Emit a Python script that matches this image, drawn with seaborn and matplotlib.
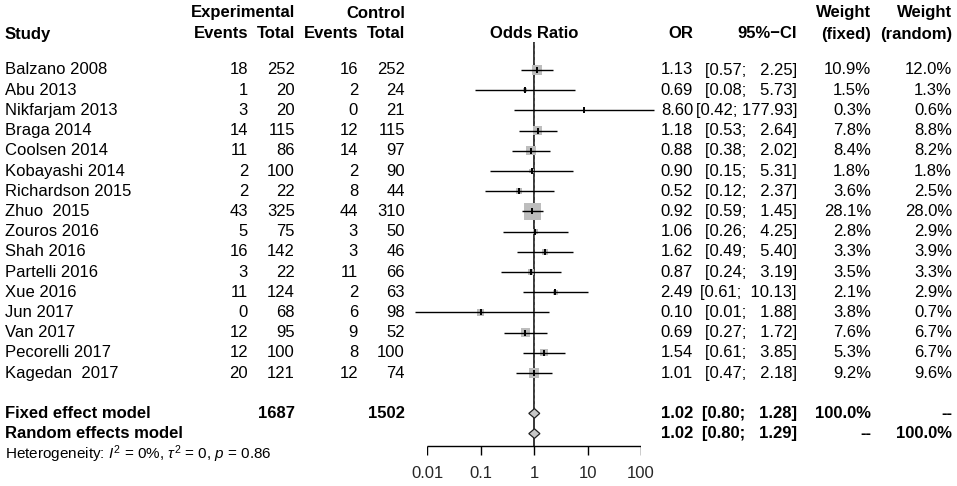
import numpy as np
import pandas as pd
import matplotlib
matplotlib.use("Agg")
import matplotlib.pyplot as plt
import seaborn as sns

# ---------------- data ----------------
studies = ["Balzano 2008", "Abu 2013", "Nikfarjam 2013", "Braga 2014", "Coolsen 2014",
           "Kobayashi 2014", "Richardson 2015", "Zhuo  2015", "Zouros 2016", "Shah 2016",
           "Partelli 2016", "Xue 2016", "Jun 2017", "Van 2017", "Pecorelli 2017", "Kagedan  2017"]
exp_events = [18, 1, 3, 14, 11, 2, 2, 43, 5, 16, 3, 11, 0, 12, 12, 20]
exp_total = [252, 20, 20, 115, 86, 100, 22, 325, 75, 142, 22, 124, 68, 95, 100, 121]
ctrl_events = [16, 2, 0, 12, 14, 2, 8, 44, 3, 3, 11, 2, 6, 9, 8, 12]
ctrl_total = [252, 24, 21, 115, 97, 90, 44, 310, 50, 46, 66, 63, 98, 52, 100, 74]
odds_ratio = [1.13, 0.69, 8.60, 1.18, 0.88, 0.90, 0.52, 0.92, 1.06, 1.62, 0.87, 2.49, 0.10, 0.69, 1.54, 1.01]
ci_low = [0.57, 0.08, 0.42, 0.53, 0.38, 0.15, 0.12, 0.59, 0.26, 0.49, 0.24, 0.61, 0.006, 0.27, 0.61, 0.47]
ci_high = [2.25, 5.73, 177.93, 2.64, 2.02, 5.31, 2.37, 1.45, 4.25, 5.40, 3.19, 10.13, 1.88, 1.72, 3.85, 2.18]
weight_fixed = [10.9, 1.5, 0.3, 7.8, 8.4, 1.8, 3.6, 28.1, 2.8, 3.3, 3.5, 2.1, 3.8, 7.6, 5.3, 9.2]
weight_random = [12.0, 1.3, 0.6, 8.8, 8.2, 1.8, 2.5, 28.0, 2.9, 3.9, 3.3, 2.9, 0.7, 6.7, 6.7, 9.6]

summary_labels = ["Fixed effect model", "Random effects model"]
summary_or = [1.02, 1.02]
summary_low = [0.80, 0.80]
summary_high = [1.28, 1.29]
summary_wfixed = ["100.0%", "--"]
summary_wrandom = ["--", "100.0%"]
total_exp = 1687
total_ctrl = 1502
heterogeneity = r"Heterogeneity: $I^2$ = 0%, $\tau^2$ = 0, $p$ = 0.86"
axis_ticks = [0.01, 0.1, 1, 10, 100]
axis_ticklabels = ["0.01", "0.1", "1", "10", "100"]

# ---------------- style ----------------
sns.set_theme(style="white")
plt.rcParams["font.family"] = ["Liberation Sans", "DejaVu Sans"]
plt.rcParams["mathtext.fontset"] = "custom"
plt.rcParams["mathtext.rm"] = "Liberation Sans"
plt.rcParams["mathtext.it"] = "Liberation Sans:italic"
plt.rcParams["mathtext.bf"] = "Liberation Sans:bold"

W, H = 957, 486
fig = plt.figure(figsize=(W / 100, H / 100), dpi=100)
fig.patch.set_facecolor("white")

axt = fig.add_axes([0, 0, 1, 1])
axt.set_xlim(0, W)
axt.set_ylim(H, 0)
axt.axis("off")

px_lo, px_hi = 427, 641  # pixel positions of 0.01 and 100
axf = fig.add_axes([px_lo / W, 0, (px_hi - px_lo) / W, 1])
axf.set_xscale("log")
axf.set_xlim(0.01, 100)
axf.set_ylim(H, 0)
axf.axis("off")

n = len(studies)
row0, rowh = 70, 20.2
ys = row0 + rowh * np.arange(n)
y_sum = [row0 + rowh * (n + 1), row0 + rowh * (n + 2)]
y_het = row0 + rowh * (n + 3)
y_hdr1, y_hdr2 = 13, 34
y_axis = 446

fs = 12
col = dict(study=5, ee=248, et=295, ce=358, ct=405, orr=693, ci=797, wf=871, wr=952)

def txt(x, y, s, ha="right", bold=False, size=fs):
    axt.text(x, y, s, ha=ha, va="center", fontsize=size,
             fontweight="bold" if bold else "normal", color="black")

# headers
txt(col["et"], y_hdr1, "Experimental", bold=True)
txt(col["ct"], y_hdr1, "Control", bold=True)
txt(col["study"], y_hdr2, "Study", ha="left", bold=True)
txt(col["ee"], y_hdr2, "Events", bold=True)
txt(col["et"], y_hdr2, "Total", bold=True)
txt(col["ce"], y_hdr2, "Events", bold=True)
txt(col["ct"], y_hdr2, "Total", bold=True)
txt(534, y_hdr2, "Odds Ratio", ha="center", bold=True)
txt(col["orr"], y_hdr2, "OR", bold=True)
txt(col["ci"], y_hdr2, "95%\u2212CI", bold=True)
txt(col["wf"], y_hdr1, "Weight", bold=True)
txt(col["wf"], y_hdr2, "(fixed)", bold=True)
txt(col["wr"], y_hdr1, "Weight", bold=True)
txt(col["wr"], y_hdr2, "(random)", bold=True)

# study rows
for i in range(n):
    y = ys[i]
    txt(col["study"], y, studies[i], ha="left")
    txt(col["ee"], y, f"{exp_events[i]}")
    txt(col["et"], y, f"{exp_total[i]}")
    txt(col["ce"], y, f"{ctrl_events[i]}")
    txt(col["ct"], y, f"{ctrl_total[i]}")
    txt(col["orr"], y, f"{odds_ratio[i]:.2f}")
    txt(col["ci"], y, f"[{ci_low[i]:.2f}; {ci_high[i]:6.2f}]")
    txt(col["wf"], y, f"{weight_fixed[i]:.1f}%")
    txt(col["wr"], y, f"{weight_random[i]:.1f}%")

# summary rows
for j in range(2):
    y = y_sum[j]
    txt(col["study"], y, summary_labels[j], ha="left", bold=True)
    txt(col["orr"], y, f"{summary_or[j]:.2f}", bold=True)
    txt(col["ci"], y, f"[{summary_low[j]:.2f}; {summary_high[j]:6.2f}]", bold=True)
    txt(col["wf"], y, summary_wfixed[j], bold=True)
    txt(col["wr"], y, summary_wrandom[j], bold=True)
txt(col["et"], y_sum[0], f"{total_exp}", bold=True)
txt(col["ct"], y_sum[0], f"{total_ctrl}", bold=True)
txt(col["study"], y_het, heterogeneity, ha="left", size=11)

# ---------------- forest ----------------
axf.vlines(1, 42, y_axis, color="black", lw=1.1, zorder=1)
axf.vlines(summary_or[0], 42, y_sum[0], color="#555555", lw=0.7, ls=(0, (3, 3)), zorder=1)

df = pd.DataFrame({"OR": odds_ratio, "y": ys, "w": weight_fixed})
smax = 150.0
wmin, wmax = min(weight_fixed), max(weight_fixed)
sns.scatterplot(data=df, x="OR", y="y", size="w", sizes=(smax * wmin / wmax, smax),
                size_norm=(wmin, wmax), marker="s", color="#bdbdbd", linewidth=0,
                legend=False, ax=axf, zorder=2)
axf.hlines(ys, ci_low, ci_high, color="black", lw=1.0, clip_on=False, zorder=3)
axf.scatter(odds_ratio, ys, marker="|", s=14, c="black", linewidths=1.4, zorder=4)

dh = 4.8
for j in range(2):
    y = y_sum[j]
    axf.fill([summary_low[j], summary_or[j], summary_high[j], summary_or[j]],
             [y, y - dh, y, y + dh], facecolor="#c8c8c8", edgecolor="#222222",
             lw=0.9, zorder=5)

# x axis
axf.hlines(y_axis, axis_ticks[0], axis_ticks[-1], color="black", lw=1.0, zorder=1)
axf.vlines(axis_ticks, y_axis, y_axis + 9, color="black", lw=1.0)
for t, lab in zip(axis_ticks, axis_ticklabels):
    axf.text(t, y_axis + 27, lab, ha="center", va="center", fontsize=fs)

axf.set_xlabel("")
axf.set_ylabel("")

fig.savefig("out.png", dpi=100, facecolor="white")
